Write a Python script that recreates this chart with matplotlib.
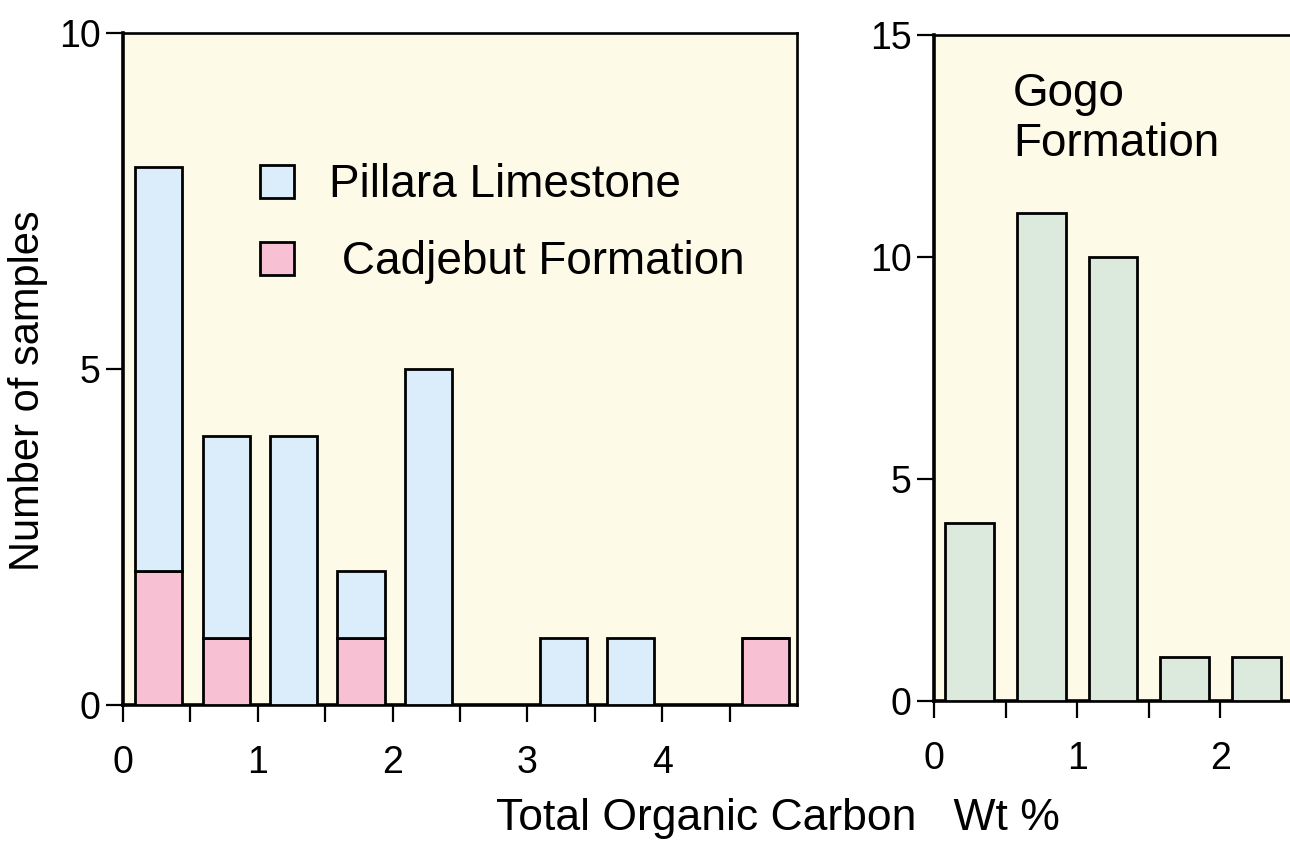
import matplotlib
matplotlib.use("Agg")
import matplotlib.pyplot as plt
from matplotlib.patches import Patch

plt.rcParams["font.family"] = ["Liberation Sans", "DejaVu Sans"]

# --- data: histogram bins (lower edge, Wt % TOC) and counts ---
left_bins = [0.0, 0.5, 1.0, 1.5, 2.0, 2.5, 3.0, 3.5, 4.0, 4.5]
cadjebut = [2, 1, 0, 1, 0, 0, 0, 0, 0, 1]
pillara = [6, 3, 4, 1, 5, 0, 1, 1, 0, 0]

gogo_bins = [0.0, 0.5, 1.0, 1.5, 2.0]
gogo = [4, 11, 10, 1, 1]

# --- styles ---
BG = "#fefae8"
C_PIL = "#dbedfb"
C_CAD = "#f7c1d3"
C_GOGO = "#dceadd"
W, H = 1290, 842

fig = plt.figure(figsize=(W / 100, H / 100), dpi=100)

def px_axes(x0, x1, ytop, ybot):
    return fig.add_axes([x0 / W, 1 - ybot / H, (x1 - x0) / W, (ybot - ytop) / H])

def style(ax, xmax, xtick_max, ymax, yticks):
    ax.set_facecolor(BG)
    ax.set_xlim(0, xmax)
    ax.set_ylim(0, ymax)
    ax.set_yticks(yticks)
    ticks = [i * 0.5 for i in range(int(xtick_max * 2) + 1)]
    ax.set_xticks(ticks)
    ax.set_xticklabels([str(int(v)) if i % 2 == 0 else ""
                        for i, v in enumerate(ticks)])
    for s in ("left", "bottom"):
        ax.spines[s].set_linewidth(2.6)
    for s in ("top", "right"):
        ax.spines[s].set_linewidth(1.9)
    ax.tick_params(axis="both", direction="out", length=12, width=1.6,
                   labelsize=27, colors="black")
    ax.tick_params(axis="x", pad=17)
    ax.tick_params(axis="y", pad=4)

# ---- left panel: Pillara Limestone + Cadjebut Formation (stacked) ----
ax1 = px_axes(123, 797, 33, 705)
xl = [b + 0.09 for b in left_bins]
ax1.bar(xl, cadjebut, width=0.35, align="edge", color=C_CAD,
        edgecolor="black", linewidth=2, zorder=3)
ax1.bar(xl, pillara, width=0.35, bottom=cadjebut, align="edge", color=C_PIL,
        edgecolor="black", linewidth=2, zorder=3)
style(ax1, 5, 4.5, 10, [0, 5, 10])

handles = [Patch(facecolor=C_PIL, edgecolor="black", linewidth=2),
           Patch(facecolor=C_CAD, edgecolor="black", linewidth=2)]
ax1.legend(handles, ["Pillara Limestone", " Cadjebut Formation"],
           loc="upper left", bbox_to_anchor=(0.17, 0.84), frameon=False,
           fontsize=33, handlelength=0.74, handleheight=0.74,
           handletextpad=0.75, labelspacing=0.72, borderpad=0)

# ---- right panel: Gogo Formation ----
ax2 = px_axes(934, 1292, 35, 701)
xg = [b + 0.08 for b in gogo_bins]
ax2.bar(xg, gogo, width=0.34, align="edge", color=C_GOGO,
        edgecolor="black", linewidth=2, zorder=3)
style(ax2, 2.5, 2.0, 15, [0, 5, 10, 15])
ax2.text(0.22, 0.945, "Gogo\nFormation", transform=ax2.transAxes,
         fontsize=33, va="top", ha="left", linespacing=1.18)

# ---- shared labels ----
fig.text(28 / W, 1 - 391 / H, "Number of samples", rotation=90,
         fontsize=30, ha="center", va="center")
fig.text(778 / W, 1 - 830 / H, "Total Organic Carbon   Wt %",
         fontsize=32, ha="center", va="baseline")

fig.savefig("out.png", dpi=100, facecolor="white")
